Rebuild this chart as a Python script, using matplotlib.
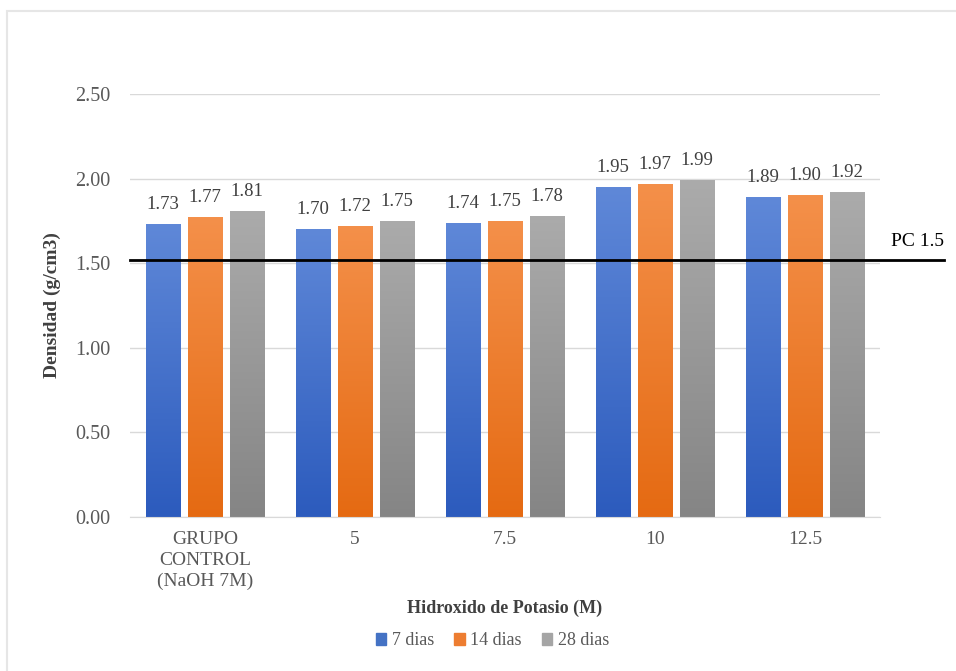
import numpy as np
import matplotlib.pyplot as plt
from matplotlib.colors import LinearSegmentedColormap
from matplotlib.patches import Rectangle

plt.rcParams['font.family'] = ['Liberation Serif', 'DejaVu Serif']

categories = ['GRUPO\nCONTROL\n(NaOH 7M)', '5', '7.5', '10', '12.5']
series_names = ['7 dias', '14 dias', '28 dias']
dias_7 = [1.73, 1.70, 1.74, 1.95, 1.89]
dias_14 = [1.77, 1.72, 1.75, 1.97, 1.90]
dias_28 = [1.81, 1.75, 1.78, 1.99, 1.92]
pc_value = 1.52
pc_label = 'PC 1.5'

# (top colour, bottom colour) for the gradient fill
grads = [('#5f88d8', '#2c5bbd'), ('#f4904a', '#e56a12'), ('#ababab', '#858585')]
legend_colors = ['#4472c4', '#ed7d31', '#a5a5a5']

fig = plt.figure(figsize=(9.56, 6.71), dpi=100)
ax = fig.add_axes([0.136, 0.2295, 0.7845, 0.6305])

x = np.arange(len(categories))
width = 0.233
step = 0.28
values = [dias_7, dias_14, dias_28]
grad = np.linspace(0, 1, 256).reshape(-1, 1)

for i, vals in enumerate(values):
    bars = ax.bar(x + (i - 1) * step, vals, width, color=legend_colors[i],
                  label=series_names[i], zorder=2)
    cmap = LinearSegmentedColormap.from_list('g%d' % i, [grads[i][1], grads[i][0]])
    for b, v in zip(bars, vals):
        bx, by = b.get_x(), b.get_y()
        im = ax.imshow(grad, cmap=cmap, origin='lower', aspect='auto',
                       extent=[bx, bx + b.get_width(), by, by + b.get_height()],
                       zorder=2.5)
        im.set_clip_path(b)
        ax.text(b.get_x() + b.get_width() / 2, v + 0.065, '%.2f' % v,
                ha='center', va='bottom', fontsize=13.5, color='#404040')

ax.set_xlim(-0.5, len(categories) - 0.5)
ax.set_ylim(0, 2.5)
ax.set_yticks(np.arange(0, 2.51, 0.5))
ax.set_yticklabels(['%.2f' % t for t in np.arange(0, 2.51, 0.5)])
ax.set_xticks(x)
ax.set_xticklabels(categories, fontsize=14)
for lbl in ax.get_xticklabels():
    lbl.set_linespacing(1.3)
ax.tick_params(axis='y', length=0, labelsize=14.5, labelcolor='#595959', pad=14)
ax.tick_params(axis='x', length=0, labelcolor='#595959', pad=10)
ax.grid(axis='y', color='#d9d9d9', linewidth=1, zorder=0)
ax.set_axisbelow(True)
for s in ['top', 'right', 'left']:
    ax.spines[s].set_visible(False)
ax.spines['bottom'].set_color('#d9d9d9')

# reference line, running past the plot area
ax.plot([-0.5, 4.93], [pc_value, pc_value], color='black', linewidth=2,
        zorder=4, clip_on=False)
ax.text(4.93, pc_value + 0.06, pc_label, ha='right', va='bottom',
        fontsize=14, color='black')

ax.set_ylabel('Densidad (g/cm3)', fontsize=14, fontweight='bold',
              color='#404040', labelpad=10)
ax.set_xlabel('Hidroxido de Potasio (M)', fontsize=13, fontweight='bold',
              color='#404040', labelpad=7)

handles = [Rectangle((0, 0), 1, 1, color=c) for c in legend_colors]
fig.legend(handles, series_names, loc='center', bbox_to_anchor=(0.515, 0.045),
           ncol=3, frameon=False, fontsize=13, labelcolor='#595959',
           handlelength=0.6, handleheight=0.6, handletextpad=0.3,
           columnspacing=1.1)

fig.patches.append(Rectangle((0.007, -0.05), 1.1, 1.034, transform=fig.transFigure,
                             fill=False, edgecolor='#e6e6e6', linewidth=1.5))

fig.savefig('out.png', dpi=100)
